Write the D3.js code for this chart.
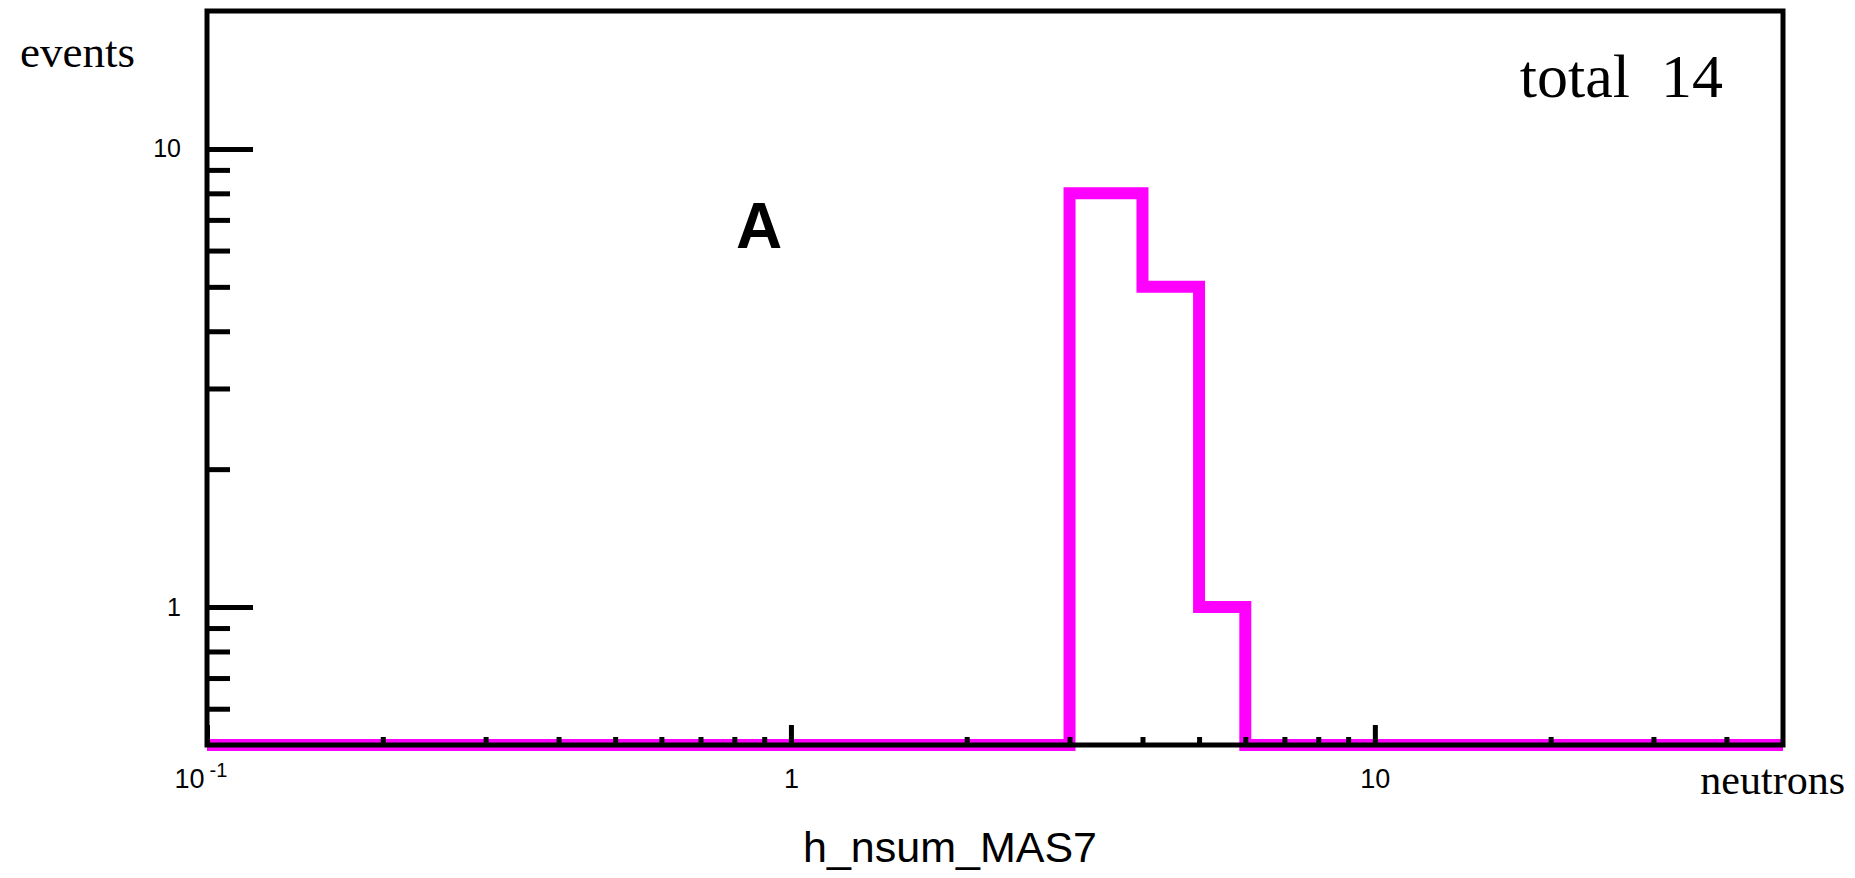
<!DOCTYPE html>
<html>
<head>
<meta charset="utf-8">
<script src="https://cdn.jsdelivr.net/npm/d3@7"></script>
<style>
  body { margin: 0; background: #fff; }
  text { fill: #000; }
</style>
</head>
<body>
<div id="chart"></div>
<script>
// histogram data: bin low edges, bin high edges, counts
const binLow = [3, 4, 5]
const binHigh = [4, 5, 6]
const counts = [8, 5, 1]

// axis ranges and ticks
const xDomain = [0.1, 50]
const yDomain = [0.5, 20]
const xMajorTicks = [0.1, 1, 10]
const xMinorTicks = [0.2, 0.3, 0.4, 0.5, 0.6, 0.7, 0.8, 0.9, 2, 3, 4, 5, 6, 7, 8, 9, 20, 30, 40]
const yMajorTicks = [1, 10]
const yMinorTicks = [0.6, 0.7, 0.8, 0.9, 2, 3, 4, 5, 6, 7, 8, 9]

const width = 1855
const height = 878
const margin = { top: 11, right: 72, bottom: 133, left: 207 }

const svg = d3.select('#chart')
  .append('svg')
  .attr('width', width)
  .attr('height', height)

const x = d3.scaleLog().domain(xDomain).range([margin.left, width - margin.right])
const y = d3.scaleLog().domain(yDomain).range([height - margin.bottom, margin.top])

// step outline of the histogram, empty bins lie on the bottom of the frame
const pts = [[xDomain[0], yDomain[0]]]
counts.forEach((c, i) => {
  pts.push([binLow[i], i === 0 ? yDomain[0] : counts[i - 1]])
  pts.push([binLow[i], c])
  pts.push([binHigh[i], c])
})
pts.push([binHigh[binHigh.length - 1], yDomain[0]])
pts.push([xDomain[1], yDomain[0]])

const line = d3.line().x(d => x(d[0])).y(d => y(d[1]))

svg.append('path')
  .attr('d', line(pts))
  .attr('fill', 'none')
  .attr('stroke', '#ff00ff')
  .attr('stroke-width', 12)
  .attr('stroke-linejoin', 'miter')

const labelFont = "'Liberation Sans', Arial, sans-serif"
const serifFont = "'Liberation Serif', 'Times New Roman', serif"

// x axis: minor ticks
svg.append('g')
  .attr('transform', `translate(0,${y(yDomain[0])})`)
  .call(d3.axisBottom(x).tickValues(xMinorTicks).tickSize(-8).tickSizeOuter(0).tickFormat(''))
  .call(g => g.select('.domain').remove())

// x axis: major ticks with labels
const xMajor = svg.append('g')
  .attr('transform', `translate(0,${y(yDomain[0])})`)
  .call(d3.axisBottom(x).tickValues(xMajorTicks).tickSize(-20).tickSizeOuter(0).tickPadding(24)
    .tickFormat(d => d < 1 ? '10' : d3.format('d')(d)))
  .call(g => g.select('.domain').remove())

xMajor.selectAll('.tick text')
  .attr('font-family', labelFont)
  .attr('font-size', 27)
  .attr('fill', '#000')

xMajor.selectAll('.tick')
  .filter(d => d < 1)
  .each(function () {
    const t = d3.select(this)
    t.select('text').attr('text-anchor', 'end').attr('x', -3)
    t.append('text')
      .attr('x', 11)
      .attr('y', 18)
      .attr('dy', '0.71em')
      .attr('font-family', labelFont)
      .attr('font-size', 20)
      .attr('fill', '#000')
      .text('-1')
  })

// y axis: minor ticks
svg.append('g')
  .attr('transform', `translate(${x(xDomain[0])},0)`)
  .call(d3.axisLeft(y).tickValues(yMinorTicks).tickSize(-23).tickSizeOuter(0).tickFormat(''))
  .call(g => g.select('.domain').remove())

// y axis: major ticks with labels
svg.append('g')
  .attr('transform', `translate(${x(xDomain[0])},0)`)
  .call(d3.axisLeft(y).tickValues(yMajorTicks).tickSize(-46).tickSizeOuter(0).tickPadding(26)
    .tickFormat(d3.format('d')))
  .call(g => g.select('.domain').remove())
  .call(g => g.selectAll('.tick text')
    .attr('font-family', labelFont)
    .attr('font-size', 25)
    .attr('fill', '#000'))

svg.selectAll('.tick line')
  .attr('stroke', '#000')
  .attr('stroke-width', 5)

// frame
svg.append('rect')
  .attr('x', x(xDomain[0]))
  .attr('y', y(yDomain[1]))
  .attr('width', x(xDomain[1]) - x(xDomain[0]))
  .attr('height', y(yDomain[0]) - y(yDomain[1]))
  .attr('fill', 'none')
  .attr('stroke', '#000')
  .attr('stroke-width', 5)

// texts
svg.append('text')
  .attr('x', 20).attr('y', 67)
  .attr('font-family', serifFont).attr('font-size', 45)
  .text('events')

svg.append('text')
  .attr('x', 1723).attr('y', 97)
  .attr('text-anchor', 'end')
  .attr('font-family', serifFont).attr('font-size', 62)
  .attr('xml:space', 'preserve')
  .text('total  14')

svg.append('text')
  .attr('x', 1845).attr('y', 794)
  .attr('text-anchor', 'end')
  .attr('font-family', serifFont).attr('font-size', 42)
  .text('neutrons')

svg.append('text')
  .attr('x', 736).attr('y', 248)
  .attr('font-family', labelFont).attr('font-weight', 'bold').attr('font-size', 64)
  .text('A')

svg.append('text')
  .attr('x', 950).attr('y', 862)
  .attr('text-anchor', 'middle')
  .attr('font-family', labelFont).attr('font-size', 43)
  .text('h_nsum_MAS7')
</script>
</body>
</html>
